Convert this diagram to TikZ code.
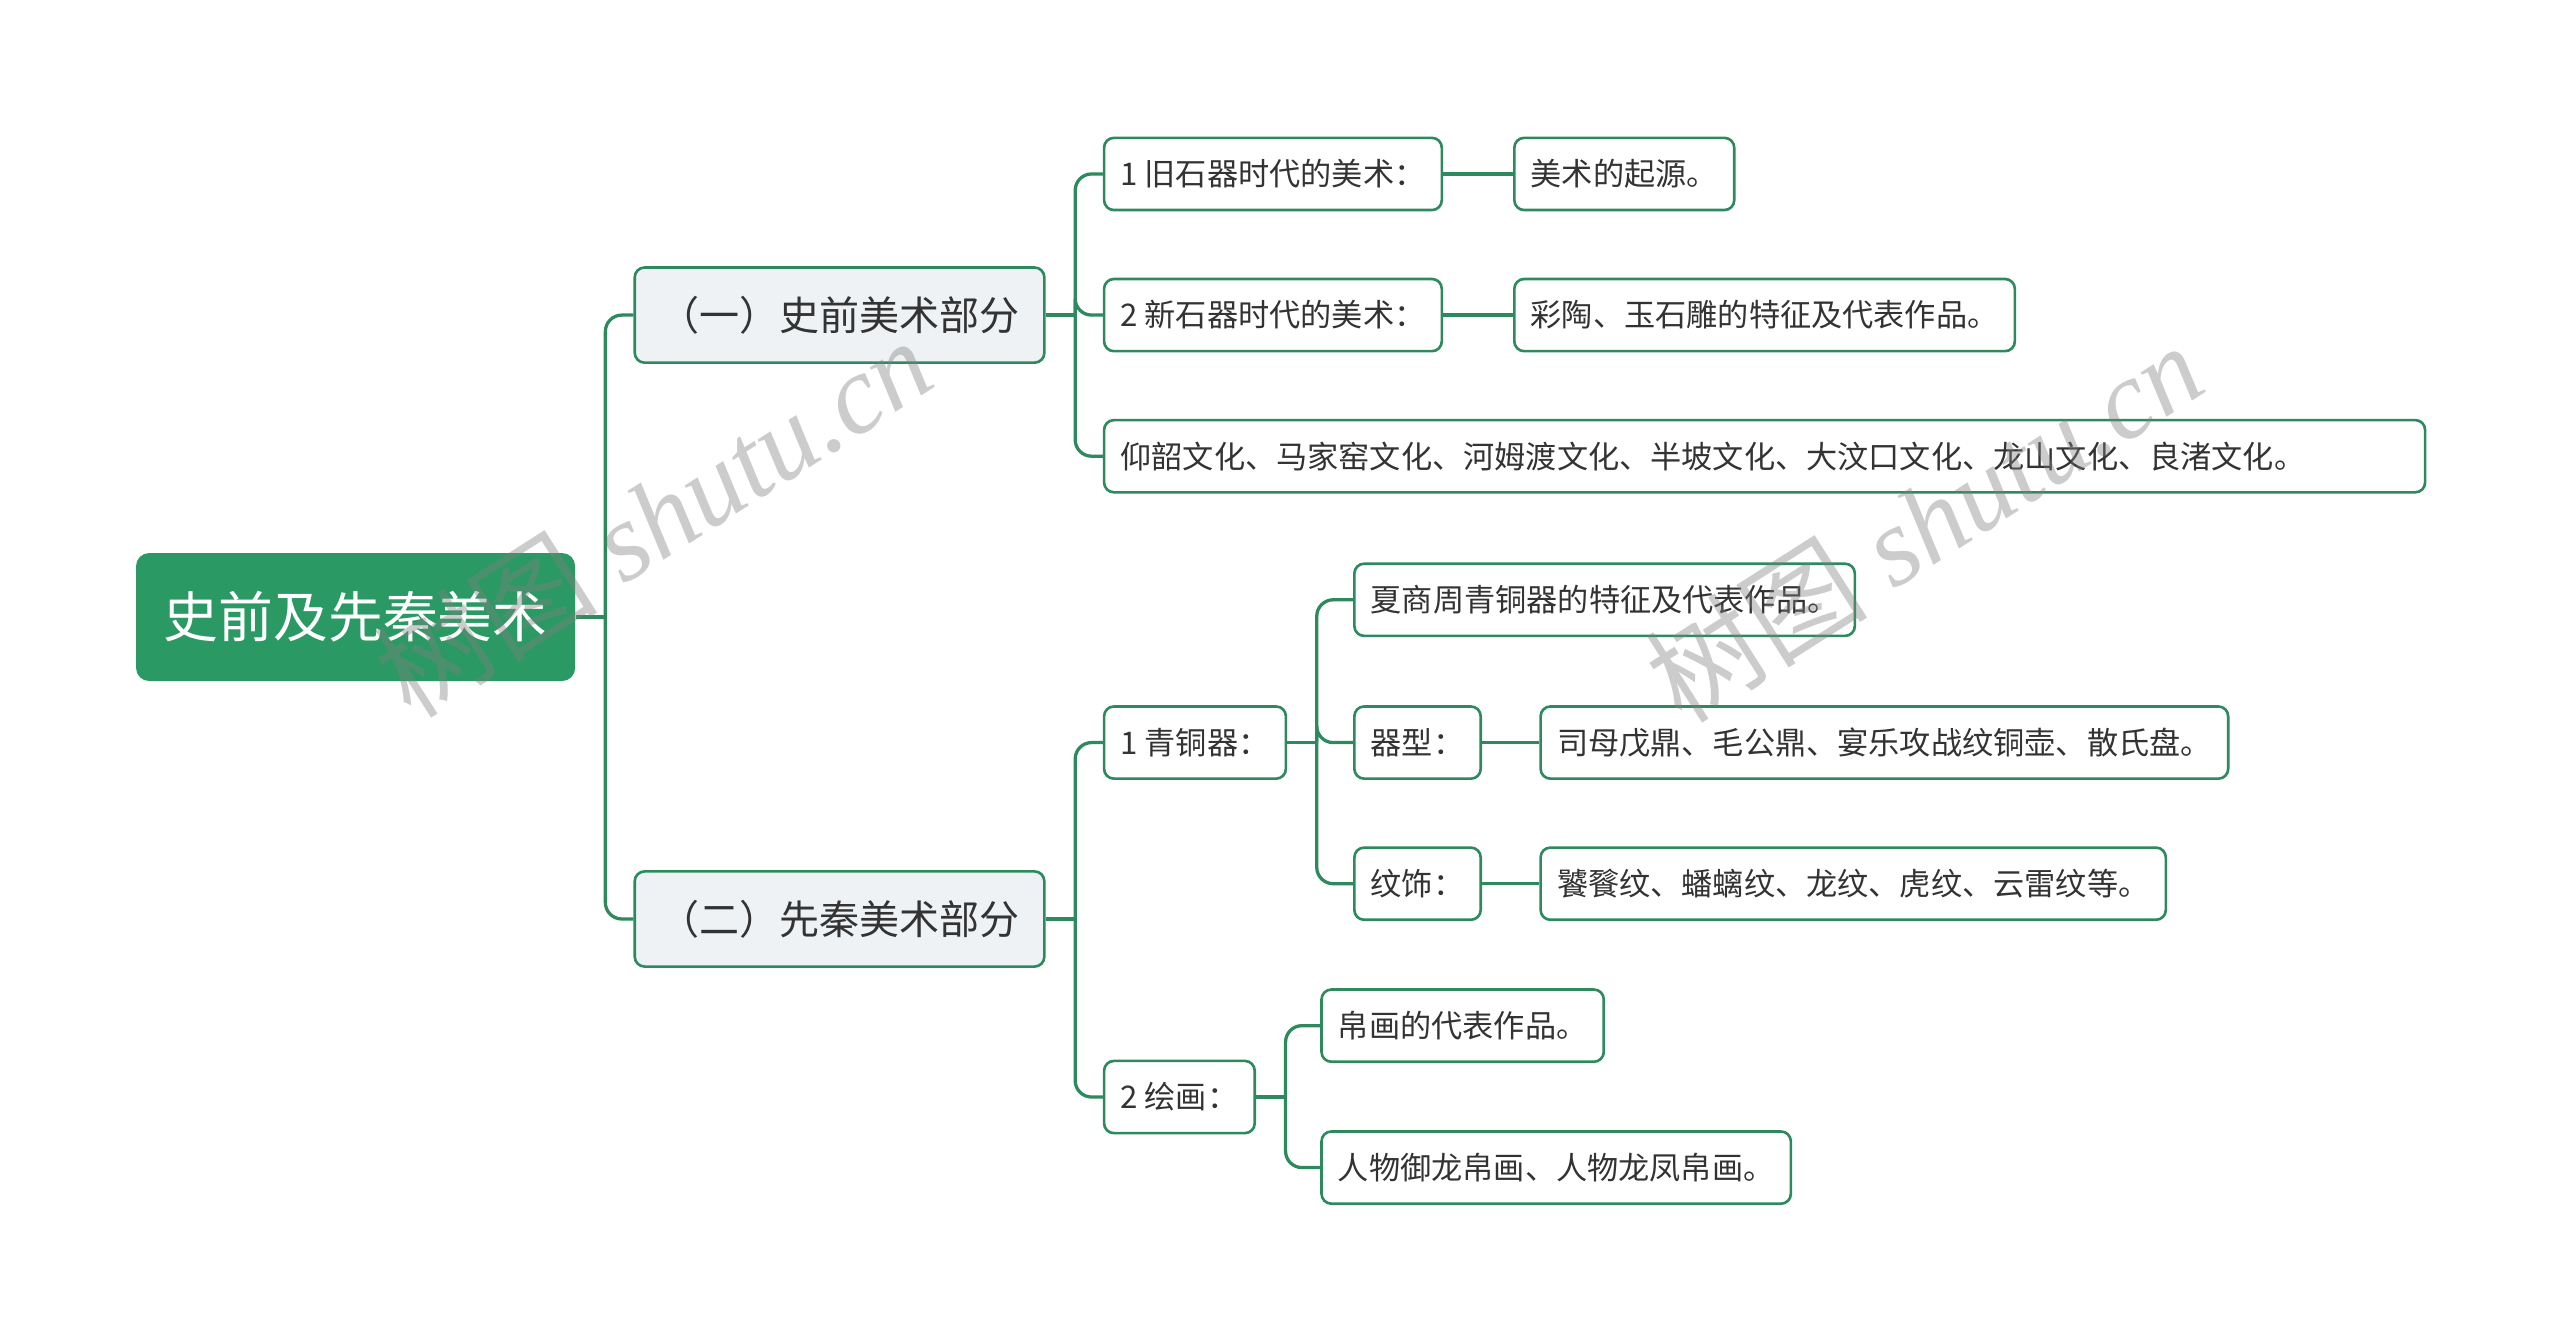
\documentclass[tikz,border=0pt]{standalone}
\usepackage[dvipsnames]{xcolor}
\usepackage{tikz}
\usepackage{fontspec}
\setmainfont{Noto Sans CJK SC}
\newfontfamily\filigrana{Liberation Serif}

\definecolor{verde}{HTML}{2A9964}
\definecolor{bordo}{HTML}{2E8A5E}
\definecolor{grigio}{HTML}{EEF2F5}
\definecolor{testo}{HTML}{333333}

\begin{document}
\begin{tikzpicture}[x=0.5pt, y=-0.5pt,
		nodo/.style={draw=bordo, line width=0.8pt, rounded corners=3pt, fill=white, text=testo, font=\fontsize{9.5}{11}\selectfont, minimum height=22pt, inner xsep=5pt, inner ysep=0pt, anchor=west},
		parte/.style={nodo, fill=grigio, font=\fontsize{12.2}{14}\selectfont, minimum height=29pt, minimum width=124.8pt},
		radice/.style={fill=verde, text=white, rounded corners=4pt, font=\fontsize{16.7}{19}\selectfont, minimum width=133.8pt, minimum height=39pt, anchor=west},
		ramo/.style={draw=bordo, line width=1pt, rounded corners=5pt}]
		\fill[white] (0,0) rectangle (1560,814.1);
		\useasboundingbox (0,0) rectangle (1560,814.1);
		
		% Definizione dei nodi
		\node[radice] (Meishu) at (82.5,376) {史前及先秦美术};
		\node[parte] (Shiqian) at (386,192) {（一）史前美术部分};
		\node[parte] (Xianqin) at (386,560) {（二）先秦美术部分};
		
		\node[nodo] (Jiushiqi) at (672,106) {1 旧石器时代的美术：};
		\node[nodo] (Qiyuan) at (922,106) {美术的起源。};
		\node[nodo] (Xinshiqi) at (672,192) {2 新石器时代的美术：};
		\node[nodo] (Caitao) at (922,192) {彩陶、玉石雕的特征及代表作品。};
		\node[nodo, text width=392.5pt, align=left] (Wenhua) at (672,278) {仰韶文化、马家窑文化、河姆渡文化、半坡文化、大汶口文化、龙山文化、良渚文化。};
		
		\node[nodo] (Qingtong) at (672,452.5) {1 青铜器：};
		\node[nodo] (Xiashang) at (824.5,365.5) {夏商周青铜器的特征及代表作品。};
		\node[nodo] (Qixing) at (824.5,452.5) {器型：};
		\node[nodo] (Simu) at (938,452.5) {司母戊鼎、毛公鼎、宴乐攻战纹铜壶、散氏盘。};
		\node[nodo] (Wenshi) at (824.5,538.5) {纹饰：};
		\node[nodo] (Taotie) at (938,538.5) {饕餮纹、蟠螭纹、龙纹、虎纹、云雷纹等。};
		
		\node[nodo] (Huihua) at (672,668.5) {2 绘画：};
		\node[nodo] (Bohua) at (804.5,625) {帛画的代表作品。};
		\node[nodo] (Renwu) at (804.5,711.5) {人物御龙帛画、人物龙凤帛画。};
		
		% Collegamenti
		\draw[ramo] (Meishu.east) -- ++(18,0) coordinate (Tronco);
		\draw[ramo] (Tronco) |- (Shiqian.west);
		\draw[ramo] (Tronco) |- (Xianqin.west);
		
		\draw[ramo] (Shiqian.east) -- ++(18,0) coordinate (Forca);
		\draw[ramo] (Forca) |- (Jiushiqi.west);
		\draw[ramo] (Forca) |- (Xinshiqi.west);
		\draw[ramo] (Forca) |- (Wenhua.west);
		\draw[ramo] (Jiushiqi.east) -- (Qiyuan.west);
		\draw[ramo] (Xinshiqi.east) -- (Caitao.west);
		
		\draw[ramo] (Xianqin.east) -- ++(18,0) coordinate (Forcb);
		\draw[ramo] (Forcb) |- (Qingtong.west);
		\draw[ramo] (Forcb) |- (Huihua.west);
		
		\draw[ramo] (Qingtong.east) -- ++(18,0) coordinate (Forcc);
		\draw[ramo] (Forcc) |- (Xiashang.west);
		\draw[ramo] (Forcc) |- (Qixing.west);
		\draw[ramo] (Forcc) |- (Wenshi.west);
		\draw[ramo] (Qixing.east) -- (Simu.west);
		\draw[ramo] (Wenshi.east) -- (Taotie.west);
		
		\draw[ramo] (Huihua.east) -- ++(18,0) coordinate (Forcd);
		\draw[ramo] (Forcd) |- (Bohua.west);
		\draw[ramo] (Forcd) |- (Renwu.west);
		
		% Filigrana
		\node[rotate=32.5, text=gray, opacity=0.4, font=\fontsize{34}{40}\selectfont] (Filigranaa) at (398,315) {树图{\filigrana\itshape\ shutu.cn}};
		\node[rotate=32.5, text=gray, opacity=0.4, font=\fontsize{34}{40}\selectfont] (Filigranab) at (1172,318) {树图{\filigrana\itshape\ shutu.cn}};
	\end{tikzpicture}
\end{document}
